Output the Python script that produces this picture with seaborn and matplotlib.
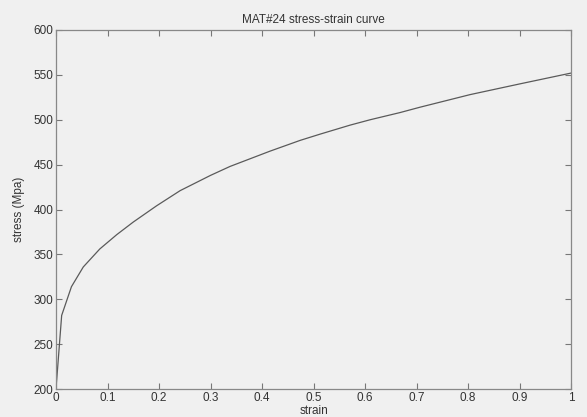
import matplotlib

matplotlib.use("Agg")
import matplotlib.pyplot as plt
import pandas as pd
import seaborn as sns

strain = [0.0, 0.011, 0.030, 0.053, 0.085, 0.118, 0.150, 0.195, 0.241, 0.300, 0.338,
          0.4155, 0.474, 0.513, 0.571, 0.610, 0.668, 0.707, 0.804, 0.901, 1.0]
stress = [200, 282, 314, 336, 356, 372, 386, 404, 421, 438, 448,
          465, 477, 484, 494, 500, 508, 514, 528, 540, 552]
x_ticks = [0, 0.1, 0.2, 0.3, 0.4, 0.5, 0.6, 0.7, 0.8, 0.9, 1]
x_labels = ["0", "0.1", "0.2", "0.3", "0.4", "0.5", "0.6", "0.7", "0.8", "0.9", "1"]
y_ticks = [200, 250, 300, 350, 400, 450, 500, 550, 600]

sns.set_style("ticks")
plt.rcParams["font.family"] = ["Liberation Sans", "DejaVu Sans"]

bg = "#f0f0f0"
frame = pd.DataFrame({"strain": strain, "stress": stress})

fig = plt.figure(figsize=(5.87, 4.17), dpi=100, facecolor=bg)
ax = fig.add_axes([56 / 587, 28 / 417, 515 / 587, 359 / 417])
ax.set_facecolor(bg)
sns.lineplot(data=frame, x="strain", y="stress", color="#5a5a5a", linewidth=0.9, ax=ax)

ax.set_xlim(0, 1)
ax.set_ylim(200, 600)
ax.set_xticks(x_ticks)
ax.set_xticklabels(x_labels)
ax.set_yticks(y_ticks)
ax.tick_params(direction="in", top=True, right=True, length=4, width=0.8,
               color="#777777", labelcolor="#333333", labelsize=8.5, pad=2)
for spine in ax.spines.values():
    spine.set_visible(True)
    spine.set_color("#888888")
    spine.set_linewidth(0.9)

ax.set_xlabel("strain", fontsize=8.5, color="#333333", labelpad=1)
ax.set_ylabel("stress (Mpa)", fontsize=8.5, color="#333333", labelpad=6)
ax.set_title("MAT#24 stress-strain curve", fontsize=8.5, color="#333333", pad=5)

fig.savefig("out.png", dpi=100, facecolor=bg)
